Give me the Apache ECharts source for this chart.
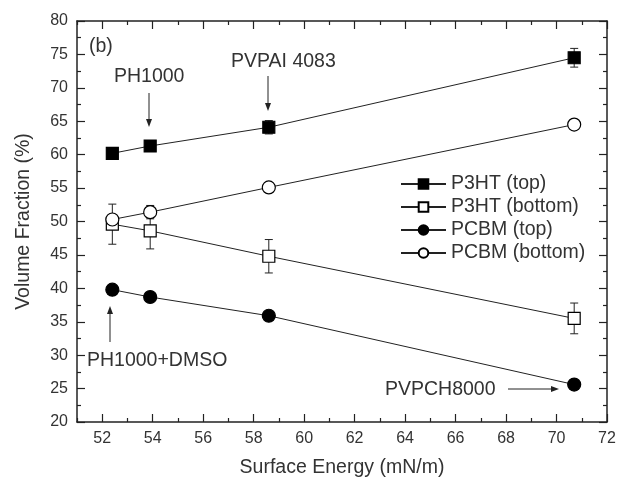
<!DOCTYPE html>
<html>
<head>
<meta charset="utf-8">
<script src="https://cdn.jsdelivr.net/npm/echarts@6/dist/echarts.min.js"></script>
<style>
html,body{margin:0;padding:0;background:#fff;}
#c{width:617px;height:477px;}
</style>
</head>
<body>
<div id="c"></div>
<script>
// ---- data ----
const surfaceEnergy = [52.4, 53.9, 58.6, 70.7];
const p3htTop = [60.2, 61.3, 64.1, 74.5];
const p3htTopErr = [0, 0, 1.0, 1.4];
const p3htBottom = [49.6, 48.6, 44.8, 35.5];
const p3htBottomErr = [3.0, 2.7, 2.5, 2.3];
const pcbmTop = [39.8, 38.7, 35.9, 25.6];
const pcbmTopErr = [0, 0, 0, 0];
const pcbmBottom = [50.3, 51.4, 55.1, 64.5];
const pcbmBottomErr = [0, 1.0, 0, 0];
const seriesNames = ['P3HT (top)', 'P3HT (bottom)', 'PCBM (top)', 'PCBM (bottom)'];
const xMajorTicks = [52, 54, 56, 58, 60, 62, 64, 66, 68, 70, 72];
const xMinorTicks = [51, 53, 55, 57, 59, 61, 63, 65, 67, 69, 71];

const FONT = '"Liberation Sans", Arial, sans-serif';
const INK = '#222';
const TXT = '#333';
const BIG = 19.5;

const chart = echarts.init(document.getElementById('c'), null, {renderer: 'canvas'});

function pairs(ys) { return surfaceEnergy.map((x, i) => [x, ys[i]]); }
function errPairs(ys, es) { return surfaceEnergy.map((x, i) => [x, ys[i], es[i]]).filter(d => d[2] > 0); }

function errorSeries(ys, es) {
  return {
    type: 'custom', xAxisIndex: 0, yAxisIndex: 0, z: 1, silent: true,
    data: errPairs(ys, es),
    renderItem: function (params, api) {
      const x = api.value(0), y = api.value(1), e = api.value(2);
      const t = api.coord([x, y + e]), b = api.coord([x, y - e]);
      const w = 4;
      const st = {stroke: INK, lineWidth: 1};
      return {type: 'group', children: [
        {type: 'line', shape: {x1: t[0], y1: t[1], x2: b[0], y2: b[1]}, style: st},
        {type: 'line', shape: {x1: t[0] - w, y1: t[1], x2: t[0] + w, y2: t[1]}, style: st},
        {type: 'line', shape: {x1: b[0] - w, y1: b[1], x2: b[0] + w, y2: b[1]}, style: st}
      ]};
    }
  };
}

function lineSeries(name, ys, symbol, filled, size) {
  return {
    name: name, type: 'line', xAxisIndex: 0, yAxisIndex: 0, z: 3,
    data: pairs(ys), symbol: symbol, symbolSize: size, showAllSymbol: true,
    lineStyle: {color: INK, width: 1},
    itemStyle: {color: filled ? '#000' : '#fff', borderColor: '#000', borderWidth: 1.2},
    emphasis: {disabled: true}
  };
}

const xBase = {type: 'value', min: 51, max: 72, splitLine: {show: false}, gridIndex: 0};
const axisLineStyle = {show: true, lineStyle: {color: INK, width: 1.5}};

const option = {
  animation: false,
  backgroundColor: '#fff',
  grid: {left: 77, right: 10, top: 21, bottom: 55, containLabel: false, outerBoundsMode: 'none'},
  xAxis: [
    Object.assign({}, xBase, {
      position: 'bottom', axisLine: axisLineStyle,
      axisTick: {show: true, inside: true, length: 8, customValues: xMajorTicks, lineStyle: {color: INK, width: 1.2}},
      axisLabel: {customValues: xMajorTicks, color: TXT, fontSize: 16, fontFamily: FONT, margin: 9},
      name: 'Surface Energy (mN/m)', nameLocation: 'middle', nameGap: 36, nameMoveOverlap: false,
      nameTextStyle: {color: TXT, fontSize: BIG, fontFamily: FONT}
    }),
    Object.assign({}, xBase, {
      position: 'bottom', axisLine: {show: false},
      axisTick: {show: true, inside: true, length: 4, customValues: xMinorTicks, lineStyle: {color: INK, width: 1.2}},
      axisLabel: {show: false}
    }),
    Object.assign({}, xBase, {
      position: 'top', axisLine: axisLineStyle,
      axisTick: {show: true, inside: true, length: 8, customValues: xMajorTicks, lineStyle: {color: INK, width: 1.2}},
      axisLabel: {show: false}
    }),
    Object.assign({}, xBase, {
      position: 'top', axisLine: {show: false},
      axisTick: {show: true, inside: true, length: 4, customValues: xMinorTicks, lineStyle: {color: INK, width: 1.2}},
      axisLabel: {show: false}
    })
  ],
  yAxis: [
    {
      type: 'value', min: 20, max: 80, interval: 5, position: 'left',
      splitLine: {show: false}, axisLine: axisLineStyle,
      axisTick: {show: true, inside: true, length: 8, lineStyle: {color: INK, width: 1.2}},
      minorTick: {show: true, splitNumber: 2, length: 4, lineStyle: {color: INK, width: 1.2}},
      axisLabel: {color: TXT, fontSize: 16, fontFamily: FONT, margin: 9},
      name: 'Volume Fraction (%)', nameLocation: 'middle', nameGap: 43, nameMoveOverlap: false,
      nameTextStyle: {color: TXT, fontSize: BIG, fontFamily: FONT}
    },
    {
      type: 'value', min: 20, max: 80, interval: 5, position: 'right',
      splitLine: {show: false}, axisLine: axisLineStyle,
      axisTick: {show: true, inside: true, length: 8, lineStyle: {color: INK, width: 1.2}},
      minorTick: {show: true, splitNumber: 2, length: 4, lineStyle: {color: INK, width: 1.2}},
      axisLabel: {show: false}
    }
  ],
  legend: {
    data: seriesNames, orient: 'vertical', left: 395, top: 169,
    itemWidth: 45, itemHeight: 12, itemGap: 3,
    textStyle: {color: TXT, fontSize: BIG, fontFamily: FONT},
    selectedMode: false
  },
  series: [
    errorSeries(p3htTop, p3htTopErr),
    errorSeries(p3htBottom, p3htBottomErr),
    errorSeries(pcbmTop, pcbmTopErr),
    errorSeries(pcbmBottom, pcbmBottomErr),
    lineSeries(seriesNames[0], p3htTop, 'rect', true, 12),
    lineSeries(seriesNames[1], p3htBottom, 'rect', false, 12),
    lineSeries(seriesNames[2], pcbmTop, 'circle', true, 13),
    lineSeries(seriesNames[3], pcbmBottom, 'circle', false, 13)
  ]
};

// annotations (text labels and arrows)
function txt(x, y, s) {
  return {type: 'text', x: x, y: y, style: {text: s, fill: TXT, font: BIG + 'px ' + FONT, textVerticalAlign: 'middle'}, z: 10};
}
function arrow(x1, y1, x2, y2) {
  const dx = x2 - x1, dy = y2 - y1, L = Math.hypot(dx, dy), ux = dx / L, uy = dy / L;
  const hl = 8, hw = 3;
  const bx = x2 - ux * hl, by = y2 - uy * hl;
  return [
    {type: 'line', shape: {x1: x1, y1: y1, x2: bx, y2: by}, style: {stroke: INK, lineWidth: 1}, z: 10},
    {type: 'polygon', shape: {points: [[x2, y2], [bx - uy * hw, by + ux * hw], [bx + uy * hw, by - ux * hw]]}, style: {fill: INK}, z: 10}
  ];
}
option.graphic = [].concat(
  [txt(89, 47, '(b)'), txt(114, 77, 'PH1000'), txt(231, 62, 'PVPAI 4083'),
   txt(87, 361, 'PH1000+DMSO'), txt(385, 390, 'PVPCH8000')],
  arrow(149, 93, 149, 127),
  arrow(268, 76, 268, 111),
  arrow(110, 342, 110, 306),
  arrow(508, 389, 559, 389)
);

chart.setOption(option);
</script>
</body>
</html>
